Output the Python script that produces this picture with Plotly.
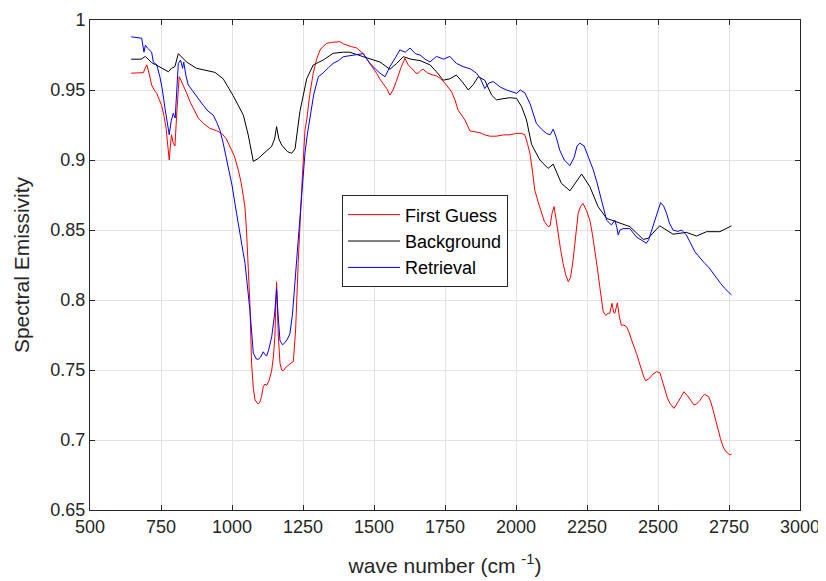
import plotly.graph_objects as go

# ---------------- data ----------------
fg_wn = [645, 688, 695, 700, 708, 717, 726, 735, 744, 752, 760, 768, 774, 779, 783, 787, 793, 799, 806, 814,
         820, 828, 840, 852, 866, 881, 900, 922, 945, 964, 980, 993, 1008, 1022, 1032, 1040, 1046, 1051, 1057,
         1063, 1069, 1075, 1081, 1092, 1098, 1104, 1110, 1116, 1122, 1130, 1140, 1146, 1151, 1157, 1163, 1169,
         1175, 1181, 1190, 1198, 1208, 1216, 1220, 1224, 1233, 1240, 1247, 1257, 1263, 1274, 1286, 1298, 1310,
         1320, 1333, 1350, 1365, 1380, 1392, 1404, 1420, 1439, 1450, 1462, 1475, 1486, 1498, 1509, 1520, 1532,
         1545, 1556, 1567, 1580, 1595, 1609, 1620, 1638, 1648, 1656, 1665, 1673, 1690, 1708, 1721, 1735, 1750,
         1773, 1785, 1796, 1808, 1820, 1838, 1855, 1873, 1890, 1908, 1930, 1955, 1978, 2002, 2020, 2031, 2040,
         2049, 2058, 2066, 2078, 2090, 2100, 2113, 2120, 2127, 2134, 2141, 2148, 2157, 2166, 2175, 2184, 2192,
         2201, 2210, 2219, 2228, 2236, 2248, 2260, 2269, 2278, 2287, 2295, 2301, 2307, 2316, 2324, 2330, 2338,
         2344, 2348, 2357, 2364, 2371, 2380, 2389, 2398, 2407, 2416, 2424, 2433, 2442, 2450, 2457, 2470, 2482,
         2495, 2507, 2515, 2524, 2533, 2542, 2556, 2564, 2571, 2582, 2591, 2598, 2606, 2616, 2627, 2637, 2647,
         2656, 2664, 2678, 2686, 2694, 2703, 2712, 2720, 2729, 2738, 2747, 2752, 2759]
fg_val = [0.962, 0.9624, 0.966, 0.968, 0.962, 0.9536, 0.950, 0.9476, 0.943, 0.939, 0.932, 0.9226, 0.910, 0.900,
          0.910, 0.918, 0.912, 0.910, 0.935, 0.9595, 0.957, 0.9536, 0.948, 0.9417, 0.936, 0.930, 0.926, 0.9226,
          0.921, 0.919, 0.915, 0.9095, 0.903, 0.893, 0.884, 0.874, 0.8655, 0.850, 0.828, 0.7976, 0.7548, 0.737,
          0.7286, 0.7257, 0.727, 0.731, 0.738, 0.740, 0.739, 0.742, 0.750, 0.760, 0.774, 0.813, 0.775, 0.7548,
          0.750, 0.7495, 0.752, 0.7536, 0.755, 0.756, 0.765, 0.7786, 0.826, 0.858, 0.8857, 0.9214, 0.9286, 0.947,
          0.962, 0.972, 0.9786, 0.981, 0.9833, 0.984, 0.9842, 0.9845, 0.983, 0.982, 0.981, 0.980, 0.978, 0.976,
          0.972, 0.969, 0.965, 0.962, 0.958, 0.9548, 0.951, 0.9464, 0.950, 0.957, 0.966, 0.9726, 0.968, 0.9643,
          0.962, 0.962, 0.964, 0.9648, 0.962, 0.9607, 0.960, 0.958, 0.9548, 0.9488, 0.943, 0.9357, 0.932, 0.9286,
          0.9207, 0.920, 0.9195, 0.918, 0.917, 0.917, 0.9179, 0.918, 0.919, 0.919, 0.918, 0.912, 0.9048, 0.892,
          0.8786, 0.870, 0.862, 0.856, 0.8524, 0.853, 0.862, 0.8667, 0.858, 0.8476, 0.836, 0.826, 0.818, 0.813,
          0.816, 0.8286, 0.848, 0.862, 0.867, 0.869, 0.864, 0.857, 0.847, 0.8357, 0.822, 0.8095, 0.800, 0.7917,
          0.789, 0.7905, 0.7905, 0.7976, 0.791, 0.7905, 0.798, 0.788, 0.782, 0.782, 0.781, 0.777, 0.7714, 0.767,
          0.762, 0.756, 0.750, 0.745, 0.7424, 0.744, 0.747, 0.7488, 0.748, 0.742, 0.7357, 0.730, 0.7262, 0.7226,
          0.725, 0.727, 0.731, 0.7345, 0.733, 0.731, 0.728, 0.725, 0.726, 0.728, 0.731, 0.7326, 0.731, 0.727,
          0.7214, 0.714, 0.7071, 0.701, 0.6952, 0.692, 0.6905, 0.6893, 0.6898]

bg_wn = [645, 680, 695, 717, 750, 776, 787, 799, 811, 825, 840, 875, 911, 940, 969, 1004, 1040, 1057, 1075,
         1092, 1116, 1139, 1150, 1157, 1165, 1175, 1195, 1210, 1222, 1239, 1263, 1286, 1321, 1356, 1392, 1415,
         1462, 1521, 1556, 1580, 1603, 1630, 1662, 1697, 1720, 1744, 1767, 1790, 1814, 1832, 1850, 1867, 1890,
         1914, 1931, 1978, 2002, 2020, 2037, 2055, 2084, 2113, 2131, 2160, 2190, 2210, 2231, 2260, 2289, 2319,
         2366, 2401, 2448, 2465, 2506, 2553, 2600, 2636, 2671, 2718, 2759]
bg_val = [0.972, 0.972, 0.974, 0.9695, 0.966, 0.963, 0.9655, 0.9667, 0.976, 0.973, 0.970, 0.9655, 0.9638,
          0.9626, 0.958, 0.946, 0.932, 0.918, 0.899, 0.901, 0.9055, 0.9095, 0.915, 0.9238, 0.915, 0.9107, 0.906,
          0.9048, 0.908, 0.9345, 0.958, 0.9679, 0.9714, 0.9762, 0.977, 0.977, 0.9738, 0.970, 0.9648, 0.969,
          0.9738, 0.972, 0.971, 0.968, 0.963, 0.957, 0.958, 0.9607, 0.955, 0.950, 0.954, 0.9595, 0.957, 0.9464,
          0.943, 0.9445, 0.944, 0.938, 0.9286, 0.911, 0.900, 0.894, 0.897, 0.8833, 0.878, 0.884, 0.890, 0.881,
          0.8667, 0.8583, 0.8548, 0.8524, 0.8433, 0.844, 0.853, 0.847, 0.8483, 0.8457, 0.8488, 0.8488, 0.853]

rt_wn = [645, 682, 690, 695, 702, 710, 717, 723, 735, 746, 755, 764, 772, 779, 786, 793, 800, 805, 811, 819,
         826, 830, 838, 846, 855, 864, 880, 899, 915, 934, 946, 958, 969, 981, 1000, 1016, 1030, 1046, 1063,
         1075, 1085, 1092, 1100, 1110, 1116, 1122, 1130, 1140, 1150, 1157, 1162, 1169, 1178, 1186, 1195, 1204,
         1213, 1222, 1230, 1239, 1248, 1257, 1265, 1274, 1288, 1304, 1320, 1340, 1356, 1375, 1392, 1415, 1439,
         1462, 1475, 1486, 1505, 1521, 1539, 1556, 1575, 1591, 1610, 1627, 1645, 1662, 1680, 1697, 1720, 1745,
         1767, 1790, 1814, 1840, 1861, 1875, 1890, 1905, 1920, 1945, 1967, 1985, 2002, 2015, 2031, 2050, 2072,
         2090, 2107, 2120, 2131, 2142, 2154, 2170, 2190, 2205, 2215, 2225, 2240, 2255, 2272, 2285, 2295, 2307,
         2319, 2336, 2348, 2355, 2360, 2366, 2377, 2401, 2424, 2440, 2459, 2467, 2477, 2493, 2509, 2520, 2530,
         2540, 2553, 2570, 2583, 2600, 2615, 2630, 2640, 2653, 2665, 2677, 2690, 2706, 2720, 2735, 2748, 2759]
rt_val = [0.988, 0.987, 0.977, 0.982, 0.980, 0.978, 0.977, 0.970, 0.968, 0.9595, 0.950, 0.937, 0.925, 0.918,
          0.928, 0.9333, 0.930, 0.950, 0.969, 0.9714, 0.9655, 0.970, 0.960, 0.9536, 0.951, 0.9488, 0.944, 0.939,
          0.935, 0.932, 0.927, 0.921, 0.912, 0.901, 0.882, 0.862, 0.845, 0.826, 0.793, 0.762, 0.758, 0.7576,
          0.759, 0.763, 0.761, 0.760, 0.765, 0.774, 0.790, 0.808, 0.790, 0.771, 0.768, 0.7695, 0.772, 0.776,
          0.790, 0.814, 0.838, 0.862, 0.885, 0.905, 0.918, 0.9286, 0.947, 0.9595, 0.962, 0.966, 0.969, 0.971,
          0.9738, 0.9745, 0.975, 0.976, 0.972, 0.969, 0.965, 0.962, 0.9595, 0.9667, 0.973, 0.9786, 0.977, 0.980,
          0.976, 0.975, 0.972, 0.970, 0.974, 0.972, 0.974, 0.969, 0.9667, 0.965, 0.962, 0.958, 0.951, 0.955,
          0.956, 0.952, 0.950, 0.949, 0.9476, 0.950, 0.948, 0.940, 0.926, 0.922, 0.919, 0.918, 0.922, 0.916,
          0.907, 0.900, 0.896, 0.902, 0.910, 0.912, 0.910, 0.902, 0.893, 0.884, 0.876, 0.866, 0.857, 0.8536,
          0.857, 0.852, 0.8464, 0.850, 0.851, 0.851, 0.845, 0.843, 0.8405, 0.843, 0.849, 0.860, 0.8695, 0.867,
          0.862, 0.855, 0.850, 0.849, 0.850, 0.8464, 0.840, 0.8345, 0.832, 0.8286, 0.826, 0.8238, 0.820,
          0.8155, 0.812, 0.8083, 0.806, 0.8036]

x_ticks = [500, 750, 1000, 1250, 1500, 1750, 2000, 2250, 2500, 2750, 3000]
y_ticks = [0.65, 0.7, 0.75, 0.8, 0.85, 0.9, 0.95, 1.0]
y_tick_labels = ["0.65", "0.7", "0.75", "0.8", "0.85", "0.9", "0.95", "1"]

# ---------------- figure ----------------
fig = go.Figure()
fig.add_trace(go.Scatter(x=fg_wn, y=fg_val, mode="lines", name="First Guess",
                         line=dict(color="#ff0000", width=1)))
fig.add_trace(go.Scatter(x=bg_wn, y=bg_val, mode="lines", name="Background",
                         line=dict(color="#000000", width=1)))
fig.add_trace(go.Scatter(x=rt_wn, y=rt_val, mode="lines", name="Retrieval",
                         line=dict(color="#0000ff", width=1)))

FONT = "Liberation Sans, Arial, Helvetica, sans-serif"
axis_common = dict(
    showline=True, linecolor="#262626", linewidth=1, mirror="ticks",
    ticks="inside", ticklen=5, tickcolor="#262626",
    showgrid=True, gridcolor="#e3e3e3", gridwidth=1, zeroline=False,
    automargin=False,
    tickfont=dict(family=FONT, size=18, color="#262626"),
)

# the page body adds an 8 px offset, margins compensate for it
fig.update_layout(
    width=826, height=581,
    margin=dict(l=82, r=34, t=12, b=79),
    paper_bgcolor="white", plot_bgcolor="white",
    font=dict(family=FONT, color="#262626"),
    xaxis=dict(range=[500, 3000], tickvals=x_ticks,
               title=dict(text="wave number (cm <sup>-1</sup>)", font=dict(size=21), standoff=22),
               **axis_common),
    yaxis=dict(range=[0.65, 1.0], tickvals=y_ticks, ticktext=y_tick_labels,
               title=dict(text="Spectral Emissivity", font=dict(size=21), standoff=15),
               **axis_common),
    legend=dict(x=0.355, y=0.642, xanchor="left", yanchor="top",
                bgcolor="white", bordercolor="#262626", borderwidth=1,
                font=dict(family=FONT, size=18, color="#000000"), itemwidth=52),
    showlegend=True,
)

fig.write_html("out.html")
